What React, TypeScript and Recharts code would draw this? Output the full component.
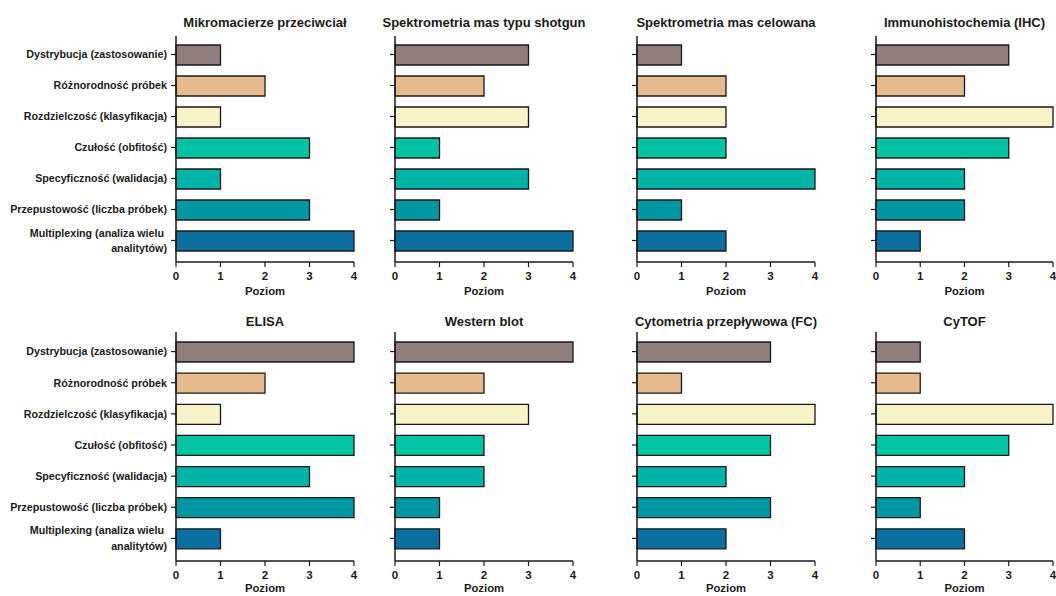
import React from 'react';
import { BarChart, Bar, XAxis, YAxis, Cell, Label } from 'recharts';

const categories = [
  'Dystrybucja (zastosowanie)',
  'Różnorodność próbek',
  'Rozdzielczość (klasyfikacja)',
  'Czułość (obfitość)',
  'Specyficzność (walidacja)',
  'Przepustowość (liczba próbek)',
  'Multiplexing (analiza wielu \nanalitytów)',
];

const barColors = ['#8f7e7d', '#e5ba8d', '#f7f2c8', '#00c4a4', '#00b4a8', '#0097a3', '#0b70a0'];

const xTicks = [0, 1, 2, 3, 4];

const titles = [
  'Mikromacierze przeciwciał',
  'Spektrometria mas typu shotgun',
  'Spektrometria mas celowana',
  'Immunohistochemia (IHC)',
  'ELISA',
  'Western blot',
  'Cytometria przepływowa (FC)',
  'CyTOF',
];

const mikromacierze = [1, 2, 1, 3, 1, 3, 4];
const shotgun = [3, 2, 3, 1, 3, 1, 4];
const celowana = [1, 2, 2, 2, 4, 1, 2];
const ihc = [3, 2, 4, 3, 2, 2, 1];
const elisa = [4, 2, 1, 4, 3, 4, 1];
const westernBlot = [4, 2, 3, 2, 2, 1, 1];
const cytometria = [3, 1, 4, 3, 2, 3, 2];
const cytof = [1, 1, 4, 3, 2, 1, 2];

const panelValues = [mikromacierze, shotgun, celowana, ihc, elisa, westernBlot, cytometria, cytof];

const FONT = '"Liberation Sans", Arial, Helvetica, sans-serif';
const INK = '#1a1a1a';

const colLeft = [176, 395, 637, 876];
const colWidth = [178, 178, 178, 177];
const rowTop = [36, 332];
const rowHeight = [226, 229];
const rowPad = [
  { top: 3, bottom: 6 },
  { top: 4, bottom: 7 },
];
const titleCenterY = [23, 322];
const labelOffset = [7, 9];
const X_AXIS_H = 40;

const CategoryTick = (props: any) => {
  const { x, y, payload } = props;
  const lines = String(payload.value).split('\n');
  const lh = 15.5;
  const start = -((lines.length - 1) * lh) / 2;
  return (
    <text x={x} y={y} textAnchor="end" fontSize={10.7} fontWeight="bold" fill={INK} fontFamily={FONT}>
      {lines.map((l, i) => (
        <tspan key={i} x={x} dy={i === 0 ? start + 3.8 : lh}>
          {l}
        </tspan>
      ))}
    </text>
  );
};

const EmptyTick = () => <g />;

function Panel({ index }: { index: number }) {
  const row = Math.floor(index / 4);
  const col = index % 4;
  const values = panelValues[index];
  const data = categories.map((c, i) => ({ name: c, value: values[i] }));
  const yw = col === 0 ? 176 : 20;
  const plotLeft = colLeft[col];
  const plotW = colWidth[col];
  const chartLeft = plotLeft - yw;
  const chartW = yw + plotW + 8;
  const chartH = rowHeight[row] + X_AXIS_H;
  return (
    <>
      <div
        style={{
          position: 'absolute',
          left: plotLeft - 40,
          width: plotW + 80,
          top: titleCenterY[row] - 9,
          height: 18,
          lineHeight: '18px',
          textAlign: 'center',
          fontFamily: FONT,
          fontWeight: 'bold',
          fontSize: 13,
          color: INK,
          whiteSpace: 'nowrap',
        }}
      >
        {titles[index]}
      </div>
      <div style={{ position: 'absolute', left: chartLeft, top: rowTop[row] }}>
        <BarChart
          width={chartW}
          height={chartH}
          data={data}
          layout="vertical"
          margin={{ top: 0, right: 8, bottom: 0, left: 0 }}
          style={{ overflow: 'visible' }}
        >
          <XAxis
            type="number"
            domain={[0, 4]}
            ticks={xTicks}
            allowDecimals={false}
            height={X_AXIS_H}
            tickSize={5}
            tickMargin={5}
            interval={0}
            stroke={INK}
            strokeWidth={1.5}
            tick={{ fill: INK, fontSize: 11.5, fontWeight: 'bold', fontFamily: FONT }}
            tickLine={{ stroke: INK, strokeWidth: 1.2 }}
          >
            <Label
              value="Poziom"
              position="insideBottom"
              offset={labelOffset[row]}
              fill={INK}
              fontSize={11.3}
              fontWeight="bold"
              fontFamily={FONT}
            />
          </XAxis>
          <YAxis
            type="category"
            dataKey="name"
            width={yw}
            interval={0}
            tickSize={5}
            tickMargin={4}
            padding={rowPad[row]}
            stroke={INK}
            strokeWidth={1.5}
            tickLine={{ stroke: INK, strokeWidth: 1.2 }}
            tick={col === 0 ? <CategoryTick /> : <EmptyTick />}
          />
          <Bar dataKey="value" barSize={20} stroke={INK} strokeWidth={1.3} isAnimationActive={false}>
            {data.map((d, i) => (
              <Cell key={i} fill={barColors[i]} />
            ))}
          </Bar>
        </BarChart>
      </div>
    </>
  );
}

export default function App() {
  return (
    <div
      style={{
        position: 'absolute',
        left: 0,
        top: 0,
        width: 1056,
        height: 596,
        overflow: 'hidden',
        background: '#ffffff',
      }}
    >
      {titles.map((t, i) => (
        <Panel key={t} index={i} />
      ))}
    </div>
  );
}
